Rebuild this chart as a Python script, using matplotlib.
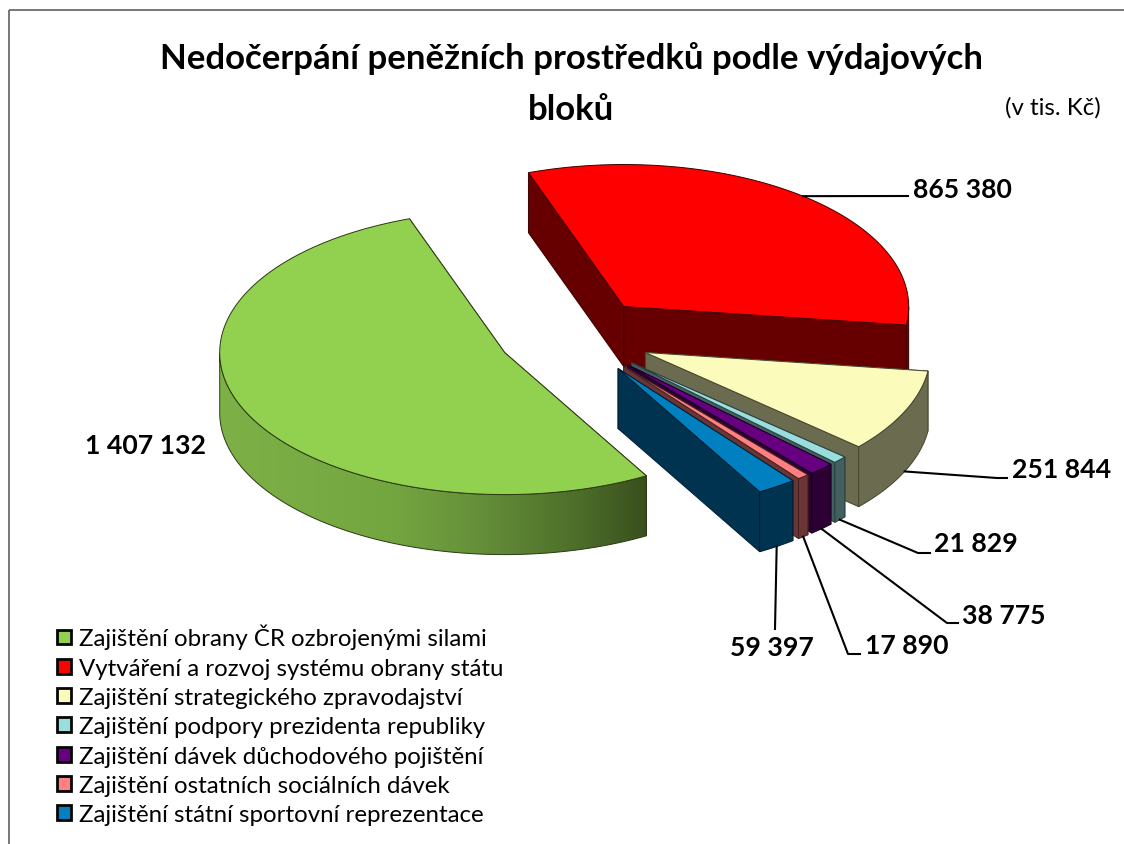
import numpy as np
import matplotlib

matplotlib.use("Agg")
import matplotlib.pyplot as plt

from matplotlib.colors import LinearSegmentedColormap
from matplotlib.patches import Patch, Polygon, Rectangle

CATEGORIES: list = [
    "Zajištění obrany ČR ozbrojenými silami",
    "Vytváření a rozvoj systému obrany státu",
    "Zajištění strategického zpravodajství",
    "Zajištění podpory prezidenta republiky",
    "Zajištění dávek důchodového pojištění",
    "Zajištění ostatních sociálních dávek",
    "Zajištění státní sportovní reprezentace",
]
VALUES: list = [1407132, 865380, 251844, 21829, 38775, 17890, 59397]
VALUE_LABELS: list = [
    "1 407 132",
    "865 380",
    "251 844",
    "21 829",
    "38 775",
    "17 890",
    "59 397",
]
TOP_COLORS: list = [
    "#92D050",
    "#FF0000",
    "#FBFBBB",
    "#99DDDD",
    "#660080",
    "#FF8080",
    "#0080C0",
]
WALL_COLORS: list = [
    "#6D9A3D",
    "#660000",
    "#6B6B50",
    "#436060",
    "#2C0033",
    "#6B3535",
    "#003350",
]
EDGE_COLORS: list = [
    "#2A3A12",
    "#3A0000",
    "#45452F",
    "#2A3E3E",
    "#1A0020",
    "#452020",
    "#001E30",
]

# layout of the pie in pixels, y goes down
CENTER: tuple = (575.0, 337.5)
RX: float = 285.0
RY: float = 142.0
DEPTH: float = 60.0
EXPLODE: float = 0.2715
START_ANGLE: float = 299.8
PAINT_ORDER: list = [1, 2, 3, 4, 5, 6, 0]

# label text position (left, middle) and the leader elbows
LABEL_POS: list = [
    (85, 446),
    (913, 190),
    (1012, 470),
    (934, 544),
    (962, 616),
    (865, 646),
    (730, 648),
]
LEADER_ELBOWS: list = [
    None,
    [(908, 197)],
    [(997, 479), (1007, 479)],
    [(918, 554), (930, 554)],
    [(947, 624), (958, 624)],
    [(848, 655), (860, 655)],
    [(775, 630)],
]

LABEL_SIZE: float = 19.2
TITLE_SIZE: float = 25.0


def slice_angles(values: list) -> tuple:
    """Начальный и конечный угол каждого сектора (по часовой стрелке)."""

    sweep: np.array = 360.0 * np.array(values) / np.sum(values)
    start: np.array = START_ANGLE - np.concatenate(([0.0], np.cumsum(sweep)[:-1]))

    return start, start - sweep


def arc_points(apex: tuple, a0: float, a1: float, n: int = 120) -> np.array:
    """Точки дуги эллипса от угла a0 до a1."""

    t: np.array = np.radians(np.linspace(a0, a1, n))

    return np.column_stack(
        [apex[0] + RX * np.cos(t), apex[1] - RY * np.sin(t)]
    )


def front_arc(apex: tuple, a0: float, a1: float) -> np.array:
    """Видимая часть дуги: только то, что обращено к зрителю."""

    t: np.array = np.linspace(a0, a1, 240)
    t = t[np.sin(np.radians(t)) <= 0]

    return np.column_stack(
        [
            apex[0] + RX * np.cos(np.radians(t)),
            apex[1] - RY * np.sin(np.radians(t)),
        ]
    )


def draw_slice(ax, indx: int, a0: float, a1: float) -> None:
    """Отрисовка одного сектора: стенки и верхняя грань."""

    mid: float = np.radians((a0 + a1) / 2)
    apex: tuple = (
        CENTER[0] + EXPLODE * RX * np.cos(mid),
        CENTER[1] - EXPLODE * RY * np.sin(mid),
    )
    arc: np.array = arc_points(apex, a0, a1)
    down: np.array = np.array([0.0, DEPTH])
    edge: str = EDGE_COLORS[indx]
    wall: str = WALL_COLORS[indx]

    for outer in (arc[0], arc[-1]):
        side = np.array([apex, outer, outer + down, np.array(apex) + down])
        ax.add_patch(Polygon(side, fc=wall, ec=edge, lw=0.7, zorder=indx))

    visible: np.array = front_arc(apex, a0, a1)
    arc_wall: np.array = np.vstack([visible, (visible + down)[::-1]])

    if indx == 0:
        # зелёная стенка с градиентом слева направо
        cmap = LinearSegmentedColormap.from_list(
            "wall",
            [
                (0.0, "#7DB147"),
                (0.4, "#74A640"),
                (0.6, "#66903A"),
                (0.85, "#4C6C29"),
                (1.0, "#39501E"),
            ],
        )
        grad: np.array = np.linspace(0, 1, 256).reshape(1, -1)
        img = ax.imshow(
            grad,
            cmap=cmap,
            extent=(arc_wall[:, 0].min(), arc_wall[:, 0].max(), 845, 0),
            aspect="auto",
            zorder=indx,
        )
        shape = Polygon(arc_wall, fc="none", ec=edge, lw=0.7, zorder=indx)
        ax.add_patch(shape)
        img.set_clip_path(shape)
    else:
        ax.add_patch(Polygon(arc_wall, fc=wall, ec=edge, lw=0.7, zorder=indx))

    top: np.array = np.vstack([[apex], arc])
    ax.add_patch(
        Polygon(top, fc=TOP_COLORS[indx], ec=edge, lw=0.7, zorder=indx)
    )

    elbows = LEADER_ELBOWS[indx]
    if elbows is None:
        return

    # линия выноски идёт от середины внешней дуги
    anchor: np.array = arc_points(apex, a0, a1, 3)[1]
    if np.sin(mid) < 0:
        anchor = anchor + down
    pts: np.array = np.vstack([anchor, elbows])
    ax.plot(pts[:, 0], pts[:, 1], color="black", lw=1.5, zorder=20)


def draw_chart() -> None:
    """Отрисовка диаграммы."""

    plt.rcParams["font.family"] = ["Lato", "DejaVu Sans"]

    fig = plt.figure(figsize=(11.24, 8.45), dpi=100)
    ax = fig.add_axes([0, 0, 1, 1])

    start, end = slice_angles(VALUES)

    for indx in PAINT_ORDER:
        draw_slice(ax, indx, start[indx], end[indx])

    ax.set_xlim(0, 1124)
    ax.set_ylim(845, 0)
    ax.axis("off")

    ax.add_patch(
        Rectangle((8.5, 10.5), 1300, 1000, fill=False, ec="#606060", lw=1.2)
    )

    ax.text(
        571,
        84,
        "Nedočerpání peněžních prostředků podle výdajových\nbloků",
        ha="center",
        va="center",
        fontsize=TITLE_SIZE,
        fontweight="bold",
        linespacing=1.7,
    )
    ax.text(1101, 107.5, "(v tis. Kč)", ha="right", va="center", fontsize=17.3)

    for text, pos in zip(VALUE_LABELS, LABEL_POS):
        ax.text(
            pos[0],
            pos[1],
            text,
            ha="left",
            va="center",
            fontsize=LABEL_SIZE,
            fontweight="bold",
            zorder=21,
        )

    handles: list = [
        Patch(fc=color, ec="#050505", lw=2.0) for color in TOP_COLORS
    ]
    ax.legend(
        handles,
        CATEGORIES,
        loc="upper left",
        bbox_to_anchor=(57 / 1124, 1 - 625 / 845),
        frameon=False,
        fontsize=17.25,
        borderpad=0,
        borderaxespad=0,
        handlelength=0.58,
        handleheight=0.58,
        handletextpad=0.32,
        labelspacing=0.345,
    )

    fig.savefig("out.png", dpi=100)


draw_chart()
